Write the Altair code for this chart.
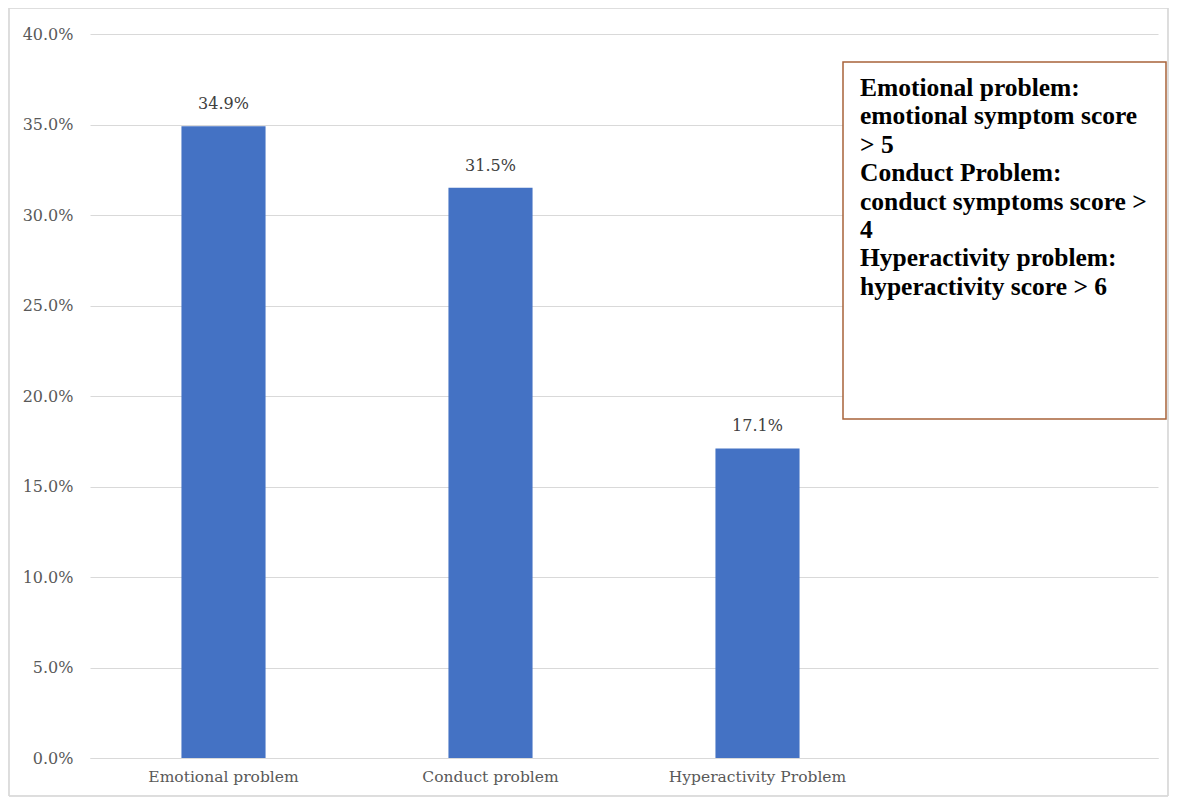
import altair as alt
import pandas as pd

categories = ["Emotional problem", "Conduct problem", "Hyperactivity Problem"]
values = [0.349, 0.315, 0.171]
labels = ["34.9%", "31.5%", "17.1%"]
x_domain = categories + [" "]
y_ticks = [0, 0.05, 0.10, 0.15, 0.20, 0.25, 0.30, 0.35, 0.40]
note_lines = [
    "Emotional problem:",
    "emotional symptom score",
    "> 5",
    "Conduct Problem:",
    "conduct symptoms score >",
    "4",
    "Hyperactivity problem:",
    "hyperactivity score > 6",
]

df = pd.DataFrame({"cat": categories, "val": values, "lab": labels})

W, H = 1068, 724
serif = "Liberation Serif"
axis_font = "DejaVu Serif"

x_enc = alt.X(
    "cat:N",
    sort=x_domain,
    scale=alt.Scale(domain=x_domain, paddingInner=0.685, paddingOuter=0.3425),
    axis=alt.Axis(
        title=None, labelAngle=0, ticks=False, domain=True, domainColor="#d9d9d9",
        labelFont=axis_font, labelFontSize=15.5, labelColor="#595959", labelPadding=11,
        grid=False,
    ),
)
y_enc = alt.Y(
    "val:Q",
    scale=alt.Scale(domain=[0, 0.4], nice=False),
    axis=alt.Axis(
        title=None, values=y_ticks, format=".1%", ticks=False, domain=False,
        labelFont=axis_font, labelFontSize=16, labelColor="#595959", labelPadding=17,
        grid=True, gridColor="#d9d9d9", gridWidth=1,
    ),
)

base = alt.Chart(df)

outer = base.mark_rect(fill=None, stroke="#d9d9d9", strokeWidth=1).encode(
    x=alt.value(-81), x2=alt.value(W + 10), y=alt.value(-26), y2=alt.value(H + 38)
)

bars = base.mark_bar(color="#4472C4").encode(x=x_enc, y=y_enc)

bar_text = base.mark_text(
    font=axis_font, fontSize=16, color="#404040", baseline="alphabetic", dy=-17
).encode(x=alt.X("cat:N", sort=x_domain), y="val:Q", text="lab:N")

box = alt.Chart(pd.DataFrame({"a": [0]})).mark_rect(
    fill="white", stroke="#A8633A", strokeWidth=1.5
).encode(x=alt.value(753), x2=alt.value(1076), y=alt.value(28), y2=alt.value(385))

note = alt.Chart(pd.DataFrame({"t": ["\n".join(note_lines)]})).mark_text(
    font=serif, fontSize=25.5, fontWeight="bold", color="#000000",
    align="left", baseline="top", lineBreak="\n", lineHeight=28.4,
).encode(x=alt.value(770), y=alt.value(42), text="t:N")

chart = (
    alt.layer(outer, bars, bar_text, box, note)
    .properties(
        width=W, height=H,
        autosize=alt.AutoSizeParams(type="none"),
        padding={"left": 82, "top": 26, "right": 11, "bottom": 39},
    )
    .configure(background="white")
    .configure_view(stroke="transparent", strokeWidth=0)
)

chart.save("out.html", embed_options={"renderer": "svg", "actions": False})
